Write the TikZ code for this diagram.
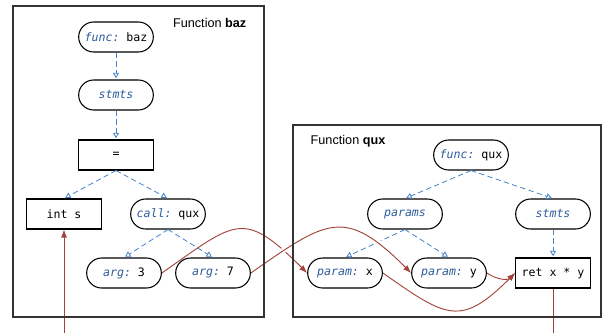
\documentclass[tikz,border=0pt]{standalone}
\usepackage{fontspec}
\setmainfont{Liberation Sans}
\setmonofont{DejaVu Sans Mono}
\usetikzlibrary{shapes.misc,arrows.meta}
\definecolor{astblue}{HTML}{4383C8}
\definecolor{kwblue}{HTML}{2D5C9C}
\definecolor{flowred}{HTML}{A3443C}
\newcommand{\kw}[1]{{\color{kwblue}\itshape #1}}
\tikzset{
  ast/.style={draw, rounded rectangle, line width=.8pt, fill=white,
    minimum width=56pt, minimum height=22.5pt, inner sep=0pt,
    font=\ttfamily\fontsize{8.7}{10}\selectfont},
  stm/.style={ast, rectangle},
  child/.style={astblue, line width=.6pt, dash pattern=on 4pt off 2.5pt,
    -{Triangle[open,length=4pt,width=4.5pt]}, shorten >=1pt},
  flow/.style={flowred, line width=.7pt, -{Latex[length=6pt,width=4.5pt]}},
  halo/.style={white, line width=4pt, shorten <=10pt, shorten >=10pt},
  frame/.style={draw=black!80, line width=.8pt},
}
\begin{document}
\begin{tikzpicture}[x=.75pt,y=.75pt]
\useasboundingbox (0,0) rectangle (605,-332);
% function baz
\node[ast] (bazfunc) at (116,-37) {\kw{func:} baz};
\node[ast] (bazstmts) at (116,-95) {\kw{stmts}};
\node[stm] (assign) at (116,-155) {=};
\node[stm] (ints) at (64,-214) {int s};
\node[ast] (call) at (168,-214) {\kw{call:} qux};
\node[ast] (arg3) at (124,-273) {\kw{arg:} 3};
\node[ast] (arg7) at (213,-273) {\kw{arg:} 7};
\draw[child] (bazfunc.south) -- (bazstmts.north);
\draw[child] (bazstmts.south) -- (assign.north);
\draw[child] (assign.south) -- (ints.north);
\draw[child] (assign.south) -- (call.north);
\draw[child] (call.south) -- (arg3.north);
\draw[child] (call.south) -- (arg7.north);

% function qux
\node[ast] (quxfunc) at (471,-155) {\kw{func:} qux};
\node[ast] (params) at (405,-214) {\kw{params}};
\node[ast] (quxstmts) at (553,-214) {\kw{stmts}};
\node[ast] (parx) at (345,-273) {\kw{param:} x};
\node[ast] (pary) at (449,-273) {\kw{param:} y};
\node[stm] (ret) at (553,-273) {ret x * y};
\draw[child] (quxfunc.south) -- (params.north);
\draw[child] (quxfunc.south) -- (quxstmts.north);
\draw[child] (params.south) -- (parx.north);
\draw[child] (params.south) -- (pary.north);
\draw[child] (quxstmts.south) -- (ret.north);

% data flow
\draw[flow] (arg3.east) to[out=35,in=135,looseness=1.6] (parx.west);
\draw[halo] (arg7.east) to[out=35,in=135,looseness=1.5] (pary.west);
\draw[flow] (arg7.east) to[out=35,in=135,looseness=1.5] (pary.west);
\draw[flow] (parx.east) to[out=-35,in=-135,looseness=1.5] (ret.west);
\draw[flow] (pary.east) to[out=-35,in=-135] (ret.west);
\draw[flow] (ret.south) -- ++(0,-46) -| (ints.south);

% frames
\draw[frame] (13,-6) rectangle (264,-317);
\draw[frame] (293,-125) rectangle (601,-317);
\node[anchor=east, font=\fontsize{9.5}{11}\selectfont] (bazlabel) at (251,-23) {Function \textbf{baz}};
\node[anchor=west, font=\fontsize{9.5}{11}\selectfont] (quxlabel) at (306,-141) {Function \textbf{qux}};
\end{tikzpicture}
\end{document}
